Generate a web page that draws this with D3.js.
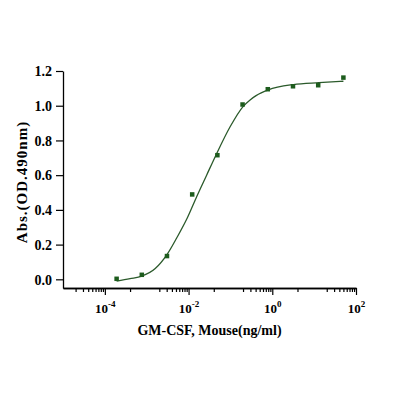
<!DOCTYPE html>
<html>
<head>
<meta charset="utf-8">
<script src="https://cdn.jsdelivr.net/npm/d3@7"></script>
<style>
  body { margin: 0; background: white; }
  text { font-family: "Liberation Serif", "Times New Roman", serif; font-weight: bold; }
</style>
</head>
<body>
<div id="container"></div>
<script>
let w = 398;
let h = 398;

// DATA
let conc = [1.91e-4, 7.63e-4, 3.05e-3, 0.0122, 0.0488, 0.195, 0.781, 3.125, 12.5, 50];
let absorb = [0.003, 0.026, 0.134, 0.489, 0.715, 1.007, 1.095, 1.112, 1.118, 1.162];

// fitted curve
let curveConc = [1.91e-4, 4.0e-4, 7.6e-4, 1.6e-3, 3.1e-3, 5.2e-3, 9.3e-3, 0.0158, 0.027, 0.045, 0.099, 0.2, 0.3, 0.41, 0.8, 3.2, 13, 50];
let curveAbs = [-0.010, 0.004, 0.018, 0.062, 0.145, 0.238, 0.353, 0.479, 0.600, 0.715, 0.880, 0.995, 1.035, 1.058, 1.091, 1.122, 1.133, 1.141];

let yTicks = [0, 0.2, 0.4, 0.6, 0.8, 1.0, 1.2];
let xMajor = [1e-4, 1e-2, 1, 100];
let xExp = ["-4", "-2", "0", "2"];
let minorMult = [2, 3, 4, 5, 6, 7, 8, 9];

let xTitle = "GM-CSF, Mouse(ng/ml)";
let yTitle = "Abs.(OD.490nm)";

// SVG
let viz = d3.select("#container").append("svg")
    .attr("width", w)
    .attr("height", h)
    .style("background-color", "white")
;

// SCALES
let xScale = d3.scaleLog().domain([1e-5, 1e2]).range([63, 356]);
let yScale = d3.scaleLinear().domain([-0.05, 1.2]).range([288, 71]);

// minor ticks: 2..9 in the decade just below each labelled decade, plus one near 4x above it
let xMinor = [];
for (let e = -5; e <= 1; e += 2) {
  for (let m of minorMult) xMinor.push(m * Math.pow(10, e));
  xMinor.push(Math.pow(10, e + 1));
}
[1e-4, 1e-2, 1].forEach(function(v){ xMinor.push(4 * v); });
xMinor = xMinor.filter(function(v){ return v > 1e-5 && v < 1e2 && xMajor.indexOf(v) < 0; });

// Y AXIS
let yAxis = d3.axisLeft(yScale)
    .tickValues(yTicks)
    .tickSize(7)
    .tickSizeOuter(0)
    .tickPadding(4)
    .tickFormat(d3.format(".1f"));
let yG = viz.append("g")
    .attr("transform", "translate(63,0)")
    .call(yAxis);
yG.selectAll("text").style("font-size", "14px").attr("fill", "black").attr("dy", "0.34em");

// X AXIS minor
let xMinorAxis = d3.axisBottom(xScale)
    .tickValues(xMinor)
    .tickSize(4)
    .tickSizeOuter(0)
    .tickFormat("");
viz.append("g")
    .attr("transform", "translate(0,288)")
    .call(xMinorAxis);

// X AXIS major
let xAxis = d3.axisBottom(xScale)
    .tickValues(xMajor)
    .tickSize(7)
    .tickSizeOuter(0)
    .tickFormat("");
let xG = viz.append("g")
    .attr("transform", "translate(0,288)")
    .call(xAxis);
xG.selectAll(".tick").append("text")
    .attr("y", 25)
    .attr("text-anchor", "middle")
    .attr("fill", "black")
    .each(function(d, i){
      let t = d3.select(this);
      t.append("tspan").style("font-size", "13px").text("10");
      t.append("tspan").style("font-size", "9px").attr("dy", "-6").text(xExp[i]);
    });

viz.selectAll(".domain").attr("stroke", "black").attr("stroke-width", 1.3);
viz.selectAll(".tick line").attr("stroke", "black").attr("stroke-width", 1.2);

// CURVE
let curvePts = curveConc.map(function(c, i){ return [c, curveAbs[i]]; });
let lineMaker = d3.line()
    .x(function(d){ return xScale(d[0]); })
    .y(function(d){ return yScale(d[1]); })
    .curve(d3.curveMonotoneX);
viz.append("path")
    .attr("d", lineMaker(curvePts))
    .attr("fill", "none")
    .attr("stroke", "#2b5a2b")
    .attr("stroke-width", 1.3);

// POINTS
let sq = 4.5;
viz.selectAll(".pt").data(conc).enter()
  .append("rect")
    .attr("class", "pt")
    .attr("x", function(d){ return xScale(d) - sq / 2; })
    .attr("y", function(d, i){ return yScale(absorb[i]) - sq / 2; })
    .attr("width", sq)
    .attr("height", sq)
    .attr("fill", "#1d5c1d");

// TITLES
viz.append("text")
    .attr("x", 209.5)
    .attr("y", 335)
    .attr("text-anchor", "middle")
    .style("font-size", "14px")
    .text(xTitle);

viz.append("text")
    .attr("transform", "translate(27,182) rotate(-90)")
    .attr("text-anchor", "middle")
    .style("font-size", "15px")
    .style("letter-spacing", "1px")
    .text(yTitle);
</script>
</body>
</html>
